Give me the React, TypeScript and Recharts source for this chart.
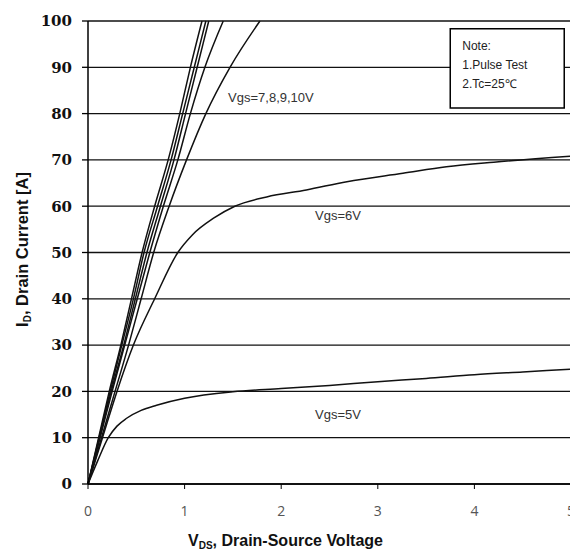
import React from 'react';
import {
  LineChart,
  Line,
  XAxis,
  YAxis,
  CartesianGrid,
  ReferenceLine,
  ReferenceArea,
  ReferenceDot,
} from 'recharts';

// Output characteristics (V_DS in volts, I_D in amps)
const vgs10 = [
  { v: 0, i: 0 }, { v: 0.11, i: 10 }, { v: 0.22, i: 20 }, { v: 0.34, i: 30 }, { v: 0.45, i: 40 },
  { v: 0.56, i: 50 }, { v: 0.69, i: 60 }, { v: 0.83, i: 70 }, { v: 0.95, i: 80 }, { v: 1.06, i: 90 },
  { v: 1.18, i: 100 },
];
const vgs9 = [
  { v: 0, i: 0 }, { v: 0.115, i: 10 }, { v: 0.23, i: 20 }, { v: 0.35, i: 30 }, { v: 0.47, i: 40 },
  { v: 0.58, i: 50 }, { v: 0.72, i: 60 }, { v: 0.86, i: 70 }, { v: 0.98, i: 80 }, { v: 1.1, i: 90 },
  { v: 1.22, i: 100 },
];
const vgs8 = [
  { v: 0, i: 0 }, { v: 0.12, i: 10 }, { v: 0.24, i: 20 }, { v: 0.37, i: 30 }, { v: 0.49, i: 40 },
  { v: 0.61, i: 50 }, { v: 0.75, i: 60 }, { v: 0.89, i: 70 }, { v: 1.01, i: 80 }, { v: 1.13, i: 90 },
  { v: 1.25, i: 100 },
];
const vgs7a = [
  { v: 0, i: 0 }, { v: 0.125, i: 10 }, { v: 0.25, i: 20 }, { v: 0.38, i: 30 }, { v: 0.51, i: 40 },
  { v: 0.64, i: 50 }, { v: 0.78, i: 60 }, { v: 0.93, i: 70 }, { v: 1.06, i: 80 }, { v: 1.21, i: 90 },
  { v: 1.4, i: 100 },
];
const vgs7b = [
  { v: 0, i: 0 }, { v: 0.14, i: 10 }, { v: 0.28, i: 20 }, { v: 0.42, i: 30 }, { v: 0.55, i: 40 },
  { v: 0.68, i: 50 }, { v: 0.84, i: 60 }, { v: 1.02, i: 70 }, { v: 1.22, i: 80 }, { v: 1.47, i: 90 },
  { v: 1.78, i: 100 },
];
const vgs6 = [
  { v: 0, i: 0 }, { v: 0.15, i: 10 }, { v: 0.3, i: 20 }, { v: 0.47, i: 30 }, { v: 0.69, i: 40 },
  { v: 0.93, i: 50 }, { v: 1.08, i: 53.8 }, { v: 1.3, i: 57.4 }, { v: 1.52, i: 60 }, { v: 1.85, i: 62 },
  { v: 2.26, i: 63.5 }, { v: 2.68, i: 65.3 }, { v: 3.26, i: 67.1 }, { v: 3.71, i: 68.5 }, { v: 4.2, i: 69.5 },
  { v: 5, i: 70.8 },
];
const vgs5 = [
  { v: 0, i: 0 }, { v: 0.1, i: 5 }, { v: 0.21, i: 10 }, { v: 0.3, i: 12.5 }, { v: 0.4, i: 14.2 },
  { v: 0.55, i: 15.9 }, { v: 0.71, i: 17 }, { v: 1, i: 18.5 }, { v: 1.5, i: 19.9 }, { v: 2, i: 20.6 },
  { v: 2.5, i: 21.3 }, { v: 3, i: 22.1 }, { v: 3.5, i: 22.8 }, { v: 4, i: 23.6 }, { v: 4.5, i: 24.2 },
  { v: 5, i: 24.8 },
];

const xTicks = [0, 1, 2, 3, 4, 5];
const yTicks = [0, 10, 20, 30, 40, 50, 60, 70, 80, 90, 100];
const noteLines = ['Note:', '1.Pulse Test', '2.Tc=25\u2103'];

const series = [vgs10, vgs9, vgs8, vgs7a, vgs7b, vgs6, vgs5];

const sans = 'Liberation Sans, Arial, sans-serif';

const XTitle = (props: any) => {
  const { viewBox } = props;
  const cx = viewBox.x + viewBox.width / 2 - 44;
  const y = viewBox.y + 62;
  return (
    <text x={cx} y={y} textAnchor="middle" fontFamily={sans} fontWeight="bold" fontSize={16} fill="#111">
      V<tspan fontSize={10} dy={3}>DS</tspan>
      <tspan dy={-3}>, Drain-Source Voltage</tspan>
    </text>
  );
};

const YTitle = (props: any) => {
  const { viewBox } = props;
  const x = viewBox.x;
  const cy = viewBox.y + viewBox.height / 2 - 3;
  return (
    <text
      x={x}
      y={cy}
      textAnchor="middle"
      transform={`rotate(-90, ${x}, ${cy})`}
      fontFamily={sans}
      fontWeight="bold"
      fontSize={16.5}
      fill="#111"
    >
      I<tspan fontSize={10} dy={3}>D</tspan>
      <tspan dy={-3}>, Drain Current [A]</tspan>
    </text>
  );
};

const CurveLabel = (text: string) => (props: any) => {
  const { viewBox } = props;
  return (
    <text
      x={viewBox.x}
      y={viewBox.y}
      dominantBaseline="central"
      fontFamily={sans}
      fontSize={13}
      fill="#333"
    >
      {text}
    </text>
  );
};

const NoteBox = (props: any) => {
  const { viewBox } = props;
  return (
    <g>
      {noteLines.map((t, k) => (
        <text
          key={t}
          x={viewBox.x + 12}
          y={viewBox.y + 17 + k * 19}
          dominantBaseline="central"
          fontFamily={sans}
          fontSize={12}
          fill="#222"
        >
          {t}
        </text>
      ))}
    </g>
  );
};

export default function App() {
  return (
    <LineChart
      width={570}
      height={545}
      margin={{ top: 13, right: 7, left: 20, bottom: 9 }}
      style={{ overflow: 'visible' }}
    >
      <CartesianGrid horizontal vertical={false} stroke="#111" strokeWidth={1.3} />
      <XAxis
        dataKey="v"
        type="number"
        domain={[0, 5]}
        ticks={xTicks}
        height={60}
        tickSize={5}
        tickMargin={17}
        axisLine={{ stroke: '#000', strokeWidth: 1.5 }}
        tickLine={{ stroke: '#000' }}
        tick={{ fill: '#555', fontSize: 14, fontFamily: 'Open Sans, sans-serif' }}
        label={{ content: XTitle }}
      />
      <YAxis
        dataKey="i"
        type="number"
        domain={[0, 100]}
        ticks={yTicks}
        width={60}
        tickSize={6}
        tickMargin={10}
        axisLine={{ stroke: '#000', strokeWidth: 1.5 }}
        tickLine={{ stroke: '#000', strokeWidth: 1.3 }}
        tick={{ fill: '#111', fontSize: 15, fontWeight: 'bold', fontFamily: 'DejaVu Serif, serif' }}
        label={{ content: YTitle }}
      />
      <ReferenceLine x={5} stroke="#000" strokeWidth={1.5} />
      <ReferenceArea
        x1={3.75}
        x2={4.93}
        y1={81.2}
        y2={98.3}
        fill="#fff"
        fillOpacity={1}
        stroke="#000"
        strokeWidth={1.5}
        label={{ content: NoteBox }}
      />
      {series.map((d, k) => (
        <Line
          key={k}
          data={d}
          dataKey="i"
          type="monotone"
          stroke="#111"
          strokeWidth={1.5}
          dot={false}
          activeDot={false}
          isAnimationActive={false}
        />
      ))}
      <ReferenceDot x={1.45} y={83.4} r={0} fill="none" stroke="none" label={{ content: CurveLabel('Vgs=7,8,9,10V') }} />
      <ReferenceDot x={2.35} y={57.9} r={0} fill="none" stroke="none" label={{ content: CurveLabel('Vgs=6V') }} />
      <ReferenceDot x={2.35} y={15.1} r={0} fill="none" stroke="none" label={{ content: CurveLabel('Vgs=5V') }} />
    </LineChart>
  );
}
